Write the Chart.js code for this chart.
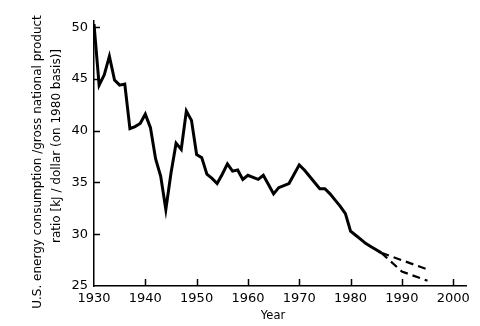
<!DOCTYPE html>
<html>
<head>
<meta charset="utf-8">
<script src="https://cdn.jsdelivr.net/npm/chart.js@4"></script>
<style>
    html, body { margin: 0; padding: 0; background: #fff; }
    .wrap { width: 480px; height: 326px; }
</style>
</head>
<body>
<div class="wrap"><canvas id="ratioChart"></canvas></div>
<script>
// Historical ratio
const years = [
    1930, 1931, 1932, 1933, 1934, 1935, 1936, 1937, 1938, 1939,
    1940, 1941, 1942, 1943, 1944, 1945, 1946, 1947, 1948, 1949,
    1950, 1951, 1952, 1953, 1954, 1955, 1956, 1957, 1958, 1959,
    1960, 1961, 1962, 1963, 1964, 1965, 1966, 1967, 1968, 1969,
    1970, 1971, 1972, 1973, 1974, 1975, 1976, 1977, 1978, 1979,
    1980, 1981, 1982, 1983, 1984, 1985, 1986
];
const ratio = [
    50.3, 44.4, 45.4, 47.2, 44.9, 44.4, 44.5, 40.2, 40.4, 40.7,
    41.6, 40.3, 37.3, 35.6, 32.4, 35.9, 38.8, 38.2, 41.9, 41.0,
    37.7, 37.4, 35.8, 35.4, 34.9, 35.8, 36.8, 36.1, 36.2, 35.3,
    35.7, 35.5, 35.3, 35.7, 34.8, 33.9, 34.5, 34.7, 34.9, 35.8,
    36.7, 36.2, 35.6, 35.0, 34.4, 34.4, 33.9, 33.3, 32.7, 32.0,
    30.3, 29.9, 29.5, 29.1, 28.8, 28.5, 28.2
];

// Projections (dashed)
const upperYears = [1986, 1995];
const upperRatio = [28.2, 26.6];
const lowerYears = [1986, 1990, 1995];
const lowerRatio = [28.2, 26.4, 25.5];

const xTickValues = [1930, 1940, 1950, 1960, 1970, 1980, 1990, 2000];
const yTickValues = [25, 30, 35, 40, 45, 50];

const xTitle = 'Year';
const yTitleLines = [
    'U.S. energy consumption /gross national product',
    'ratio [kJ / dollar (on 1980 basis)]'
];

const FONT = "'DejaVu Sans', sans-serif";

function toPoints(xs, ys) {
    return xs.map((x, i) => ({ x: x, y: ys[i] }));
}

// tick marks point into the plot, as on the original
const innerTicks = {
    id: 'innerTicks',
    afterDraw(chart) {
        const ctx = chart.ctx;
        const xs = chart.scales.x;
        const ys = chart.scales.y;
        ctx.save();
        ctx.strokeStyle = '#000';
        ctx.lineWidth = 1.5;
        ctx.beginPath();
        xTickValues.slice(1).forEach(v => {
            const px = Math.round(xs.getPixelForValue(v)) + 0.5;
            ctx.moveTo(px, ys.bottom);
            ctx.lineTo(px, ys.bottom - 7);
        });
        yTickValues.slice(1).forEach(v => {
            const py = Math.round(ys.getPixelForValue(v)) + 0.5;
            ctx.moveTo(xs.left, py);
            ctx.lineTo(xs.left + 6, py);
        });
        ctx.stroke();
        ctx.restore();
    }
};

// axis titles placed by hand; the two y lines are not centred on each other
const axisTitles = {
    id: 'axisTitles',
    afterDraw(chart) {
        const ctx = chart.ctx;
        ctx.save();
        ctx.fillStyle = '#000';
        ctx.textAlign = 'center';
        ctx.textBaseline = 'middle';
        ctx.font = '11.5px ' + FONT;
        ctx.fillText(xTitle, 273, 316);

        ctx.font = '12px ' + FONT;
        const spots = [[38, 162], [57, 146]];
        yTitleLines.forEach((line, i) => {
            ctx.save();
            ctx.translate(spots[i][0], spots[i][1]);
            ctx.rotate(-Math.PI / 2);
            ctx.fillText(line, 0, 0);
            ctx.restore();
        });
        ctx.restore();
    }
};

const ctx = document.getElementById('ratioChart').getContext('2d');
new Chart(ctx, {
    type: 'line',
    data: {
        datasets: [
            {
                data: toPoints(years, ratio),
                borderColor: '#000',
                borderWidth: 3,
                pointRadius: 0,
                tension: 0
            },
            {
                data: toPoints(upperYears, upperRatio),
                borderColor: '#000',
                borderWidth: 2.2,
                borderDash: [8, 5],
                pointRadius: 0
            },
            {
                data: toPoints(lowerYears, lowerRatio),
                borderColor: '#000',
                borderWidth: 2.2,
                borderDash: [8, 5],
                pointRadius: 0
            }
        ]
    },
    options: {
        responsive: true,
        maintainAspectRatio: false,
        animation: false,
        layout: { padding: { top: 21, right: 14, left: 0, bottom: 0 } },
        plugins: {
            legend: { display: false },
            tooltip: { enabled: false }
        },
        scales: {
            x: {
                type: 'linear',
                min: 1930,
                max: 2002.5,
                afterBuildTicks: s => { s.ticks = xTickValues.map(v => ({ value: v })); },
                afterFit: s => { s.height = 40; },
                grid: { display: true, drawOnChartArea: false, drawTicks: false },
                border: { display: true, color: '#000', width: 1.5 },
                ticks: {
                    color: '#000',
                    padding: 5,
                    maxRotation: 0,
                    font: { family: FONT, size: 13 },
                    callback: v => String(v)
                }
            },
            y: {
                type: 'linear',
                min: 25,
                max: 50.6,
                afterBuildTicks: s => { s.ticks = yTickValues.map(v => ({ value: v })); },
                afterFit: s => { s.width = 94; },
                grid: { display: true, drawOnChartArea: false, drawTicks: false },
                border: { display: true, color: '#000', width: 1.5 },
                ticks: {
                    color: '#000',
                    padding: 6,
                    font: { family: FONT, size: 13 },
                    callback: v => String(v)
                }
            }
        }
    },
    plugins: [innerTicks, axisTitles]
});
</script>
</body>
</html>
